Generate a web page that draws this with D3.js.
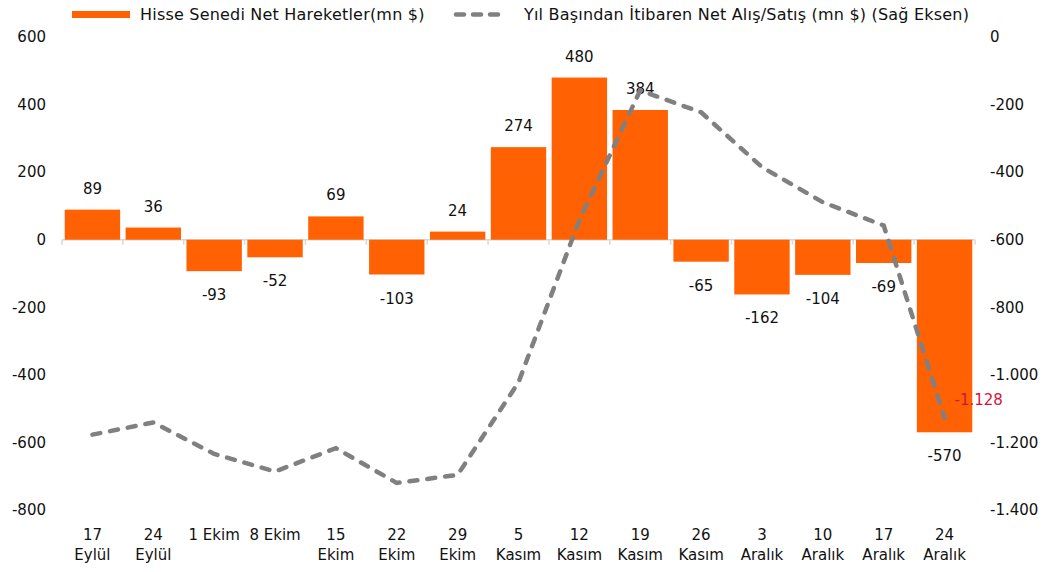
<!DOCTYPE html>
<html>
<head>
<meta charset="utf-8">
<script src="https://cdnjs.cloudflare.com/ajax/libs/d3/7.8.5/d3.min.js"></script>
<style>
  body { margin: 0; background: #fff; }
  svg text { font-family: "DejaVu Sans", sans-serif; fill: #111; }
</style>
</head>
<body>
<div id="chart"></div>
<script>
const categories = [
  ['17', 'Eylül'], ['24', 'Eylül'], ['1 Ekim'], ['8 Ekim'], ['15', 'Ekim'],
  ['22', 'Ekim'], ['29', 'Ekim'], ['5', 'Kasım'], ['12', 'Kasım'], ['19', 'Kasım'],
  ['26', 'Kasım'], ['3', 'Aralık'], ['10', 'Aralık'], ['17', 'Aralık'], ['24', 'Aralık']
];
const netFlows = [89, 36, -93, -52, 69, -103, 24, 274, 480, 384, -65, -162, -104, -69, -570];
const ytdNet = [-1177, -1141, -1234, -1286, -1217, -1320, -1296, -1022, -542, -158, -223, -385, -489, -558, -1128];
const leftTicks = [600, 400, 200, 0, -200, -400, -600, -800];
const rightTicks = [0, -200, -400, -600, -800, -1000, -1200, -1400];
const seriesNames = ['Hisse Senedi Net Hareketler(mn $)', 'Yıl Başından İtibaren Net Alış/Satış (mn $) (Sağ Eksen)'];

const W = 1055, H = 572;
const margin = { top: 37, right: 80, bottom: 62, left: 62 };
const width = W - margin.left - margin.right;
const height = H - margin.top - margin.bottom;

const trLocale = d3.formatLocale({ decimal: ',', thousands: '.', grouping: [3], currency: ['', ''], minus: '-' });
const fmt = trLocale.format(',d');

const svg = d3.select('#chart').append('svg')
  .attr('width', W).attr('height', H);
const g = svg.append('g').attr('transform', `translate(${margin.left},${margin.top})`);

const x = d3.scaleBand()
  .domain(d3.range(categories.length))
  .range([0, width])
  .paddingInner(0.09).paddingOuter(0.045);

const y = d3.scaleLinear().domain([-800, 600]).range([height, 0]);
const y2 = d3.scaleLinear().domain([-1400, 0]).range([height, 0]);

// zero line with category separators
const step = x.step();
g.append('line')
  .attr('x1', 0).attr('x2', width)
  .attr('y1', y(0)).attr('y2', y(0))
  .attr('stroke', '#d9d9d9').attr('stroke-width', 1.5);
g.selectAll('line.sep')
  .data(d3.range(categories.length + 1))
  .join('line')
  .attr('class', 'sep')
  .attr('x1', i => x(0) - x.step() * x.paddingInner() / 2 + i * step)
  .attr('x2', i => x(0) - x.step() * x.paddingInner() / 2 + i * step)
  .attr('y1', y(0)).attr('y2', y(0) + 5)
  .attr('stroke', '#d9d9d9').attr('stroke-width', 1.5);

// bars
g.selectAll('rect.bar')
  .data(netFlows)
  .join('rect')
  .attr('class', 'bar')
  .attr('x', (d, i) => x(i))
  .attr('width', x.bandwidth())
  .attr('y', d => y(Math.max(0, d)))
  .attr('height', d => Math.abs(y(d) - y(0)))
  .attr('fill', '#ff6103');

// bar labels
g.selectAll('text.blabel')
  .data(netFlows)
  .join('text')
  .attr('class', 'blabel')
  .attr('x', (d, i) => x(i) + x.bandwidth() / 2)
  .attr('y', d => d >= 0 ? y(d) - 16 : y(d) + 29)
  .attr('text-anchor', 'middle')
  .attr('font-size', 15)
  .text(d => fmt(d));

// cumulative line
const line = d3.line()
  .x((d, i) => x(i) + x.bandwidth() / 2)
  .y(d => y2(d));

g.append('path')
  .datum(ytdNet)
  .attr('fill', 'none')
  .attr('stroke', '#808080')
  .attr('stroke-width', 4.5)
  .attr('stroke-linecap', 'round')
  .attr('stroke-dasharray', '8,10')
  .attr('d', line);

// last value label
const last = ytdNet.length - 1;
g.append('text')
  .attr('x', x(last) + x.bandwidth() / 2 + 10)
  .attr('y', y2(ytdNet[last]) - 13)
  .attr('font-size', 15)
  .style('fill', '#d2143a')
  .text(fmt(ytdNet[last]));

// axes
const leftAxis = g.append('g')
  .call(d3.axisLeft(y).tickValues(leftTicks).tickSize(0).tickPadding(16).tickFormat(fmt));
leftAxis.select('.domain').remove();
leftAxis.selectAll('text').attr('font-size', 15).style('font-family', '"DejaVu Sans", sans-serif');

const rightAxis = g.append('g')
  .attr('transform', `translate(${width},0)`)
  .call(d3.axisRight(y2).tickValues(rightTicks).tickSize(0).tickPadding(15).tickFormat(fmt));
rightAxis.select('.domain').remove();
rightAxis.selectAll('text').attr('font-size', 15).style('font-family', '"DejaVu Sans", sans-serif');

// x labels
const xl = g.selectAll('text.xlabel')
  .data(categories)
  .join('text')
  .attr('class', 'xlabel')
  .attr('text-anchor', 'middle')
  .attr('font-size', 15)
  .attr('transform', (d, i) => `translate(${x(i) + x.bandwidth() / 2},${height + 30})`);
xl.selectAll('tspan')
  .data(d => d)
  .join('tspan')
  .attr('x', 0)
  .attr('dy', (d, i) => i === 0 ? 0 : 20)
  .text(d => d);

// legend
const leg = svg.append('g');
leg.append('rect').attr('x', 72).attr('y', 11).attr('width', 58).attr('height', 7).attr('fill', '#ff6103');
leg.append('text').attr('x', 140).attr('y', 20).attr('font-size', 16).attr('letter-spacing', 0.2).text(seriesNames[0]);
leg.append('line').attr('x1', 456).attr('x2', 498).attr('y1', 14.5).attr('y2', 14.5)
  .attr('stroke', '#808080').attr('stroke-width', 4.5).attr('stroke-linecap', 'round').attr('stroke-dasharray', '8,9');
leg.append('text').attr('x', 524).attr('y', 20).attr('font-size', 16).attr('letter-spacing', 0.2).text(seriesNames[1]);
</script>
</body>
</html>
